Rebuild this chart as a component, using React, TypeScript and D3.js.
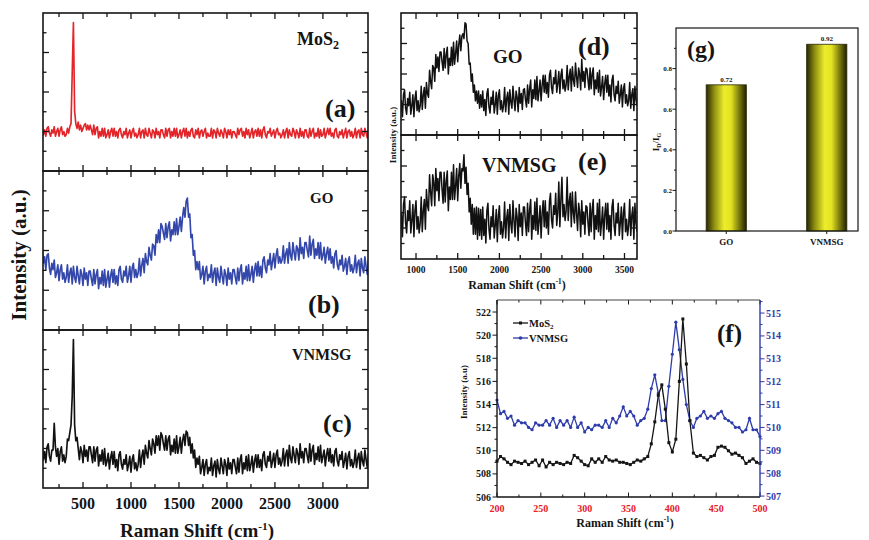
import React from 'react'
import * as d3 from 'd3'

const SERIF = '"Liberation Serif", "Times New Roman", Times, serif'
const INK = '#151515'

// spectra sampled on a 12.5 cm-1 grid
const gridStep = 12.5
const wideStart = 75 // panels a-c
const zoomStart = 800 // panels d-e

const mos2Wide = [
  28, 23, 26, 22, 27, 28, 24, 22, 26, 24, 28, 22, 25, 27, 22, 26, 28, 23, 25, 22,
  23, 27, 24, 28, 30, 62, 94, 38, 30, 27, 31, 26, 29, 25, 27, 29, 30, 26, 29, 26,
  29, 26, 23, 29, 23, 27, 28, 21, 25, 22, 27, 22, 27, 21, 23, 26, 21, 25, 27, 22,
  27, 22, 25, 21, 26, 27, 23, 21, 25, 23, 27, 21, 24, 26, 21, 25, 27, 22, 24, 21,
  23, 27, 21, 25, 26, 21, 27, 23, 22, 27, 24, 21, 26, 25, 21, 27, 23, 25, 21, 26,
  26, 23, 21, 27, 22, 26, 27, 21, 25, 22, 27, 22, 27, 21, 23, 26, 21, 25, 27, 22,
  27, 21, 25, 22, 26, 27, 22, 21, 26, 23, 27, 21, 25, 26, 22, 25, 27, 21, 24, 22,
  22, 27, 21, 26, 25, 21, 27, 24, 22, 26, 24, 21, 27, 25, 21, 26, 23, 26, 21, 25,
  25, 23, 21, 27, 23, 26, 27, 22, 25, 21, 27, 23, 26, 21, 24, 27, 21, 25, 26, 22,
  27, 22, 26, 21, 26, 28, 23, 21, 25, 24, 27, 22, 24, 26, 21, 25, 27, 23, 24, 21,
  23, 26, 21, 25, 27, 21, 26, 23, 22, 27, 25, 21, 26, 24, 21, 27, 22, 25, 21, 26,
  26, 22, 21, 27, 22, 25, 27, 21, 24, 22, 27, 21, 26, 22, 23, 27, 21, 24, 27, 23,
  27, 22, 24, 21, 26, 27, 22, 21, 25, 23, 26, 21, 24, 27, 21, 25, 26, 22, 25, 21,
  23, 27, 21, 25, 26, 21, 27, 23, 22, 27, 24, 21, 26,
]

const goWide = [
  51, 42, 46, 38, 47, 48, 39, 35, 42, 38, 44, 33, 36, 41, 31, 38, 41, 32, 36, 30,
  33, 41, 30, 36, 39, 29, 40, 33, 30, 40, 34, 29, 38, 35, 28, 39, 32, 36, 28, 37,
  37, 32, 28, 38, 29, 35, 38, 26, 33, 29, 37, 28, 38, 27, 32, 37, 27, 34, 38, 30,
  38, 29, 34, 28, 38, 40, 32, 30, 37, 34, 40, 30, 34, 40, 30, 39, 42, 33, 38, 33,
  36, 45, 34, 41, 45, 36, 48, 43, 41, 52, 47, 44, 54, 53, 47, 60, 55, 63, 55, 67,
  65, 61, 57, 67, 58, 65, 68, 56, 63, 60, 68, 60, 70, 60, 65, 71, 62, 71, 77, 71,
  81, 83, 71, 73, 58, 60, 47, 50, 38, 43, 38, 43, 32, 35, 40, 29, 37, 40, 31, 35,
  33, 41, 30, 36, 39, 28, 39, 33, 30, 40, 34, 29, 38, 35, 28, 39, 32, 36, 29, 38,
  38, 33, 29, 39, 31, 38, 41, 29, 36, 32, 40, 31, 41, 31, 35, 40, 30, 38, 42, 34,
  43, 34, 40, 33, 44, 46, 39, 36, 44, 41, 48, 38, 43, 48, 39, 47, 51, 42, 46, 42,
  44, 53, 42, 48, 51, 42, 55, 47, 44, 55, 49, 44, 53, 51, 44, 58, 48, 52, 45, 55,
  55, 50, 46, 59, 47, 54, 57, 45, 51, 47, 55, 45, 55, 44, 47, 52, 42, 48, 52, 44,
  51, 42, 46, 39, 48, 50, 41, 38, 44, 41, 47, 37, 40, 45, 35, 43, 46, 37, 41, 36,
  39, 47, 36, 42, 44, 34, 45, 39, 36, 46, 40, 35, 44,
]

const vnmsgWide = [
  27, 18, 23, 16, 26, 28, 20, 17, 24, 24, 41, 26, 20, 25, 15, 23, 26, 17, 21, 16,
  20, 31, 30, 35, 40, 58, 94, 40, 30, 32, 25, 18, 26, 23, 16, 27, 20, 24, 17, 26,
  26, 21, 16, 26, 17, 24, 26, 14, 21, 17, 24, 15, 25, 14, 17, 22, 12, 19, 23, 15,
  23, 13, 18, 11, 21, 23, 15, 12, 18, 15, 21, 11, 15, 20, 10, 18, 21, 12, 16, 11,
  15, 24, 13, 20, 24, 15, 27, 22, 19, 30, 25, 21, 31, 28, 22, 33, 27, 33, 24, 35,
  33, 28, 24, 33, 24, 31, 33, 21, 27, 23, 31, 22, 33, 22, 26, 32, 22, 30, 34, 27,
  36, 35, 27, 32, 22, 28, 19, 24, 13, 19, 15, 20, 9, 13, 18, 8, 15, 18, 9, 13,
  11, 19, 8, 14, 17, 7, 18, 12, 9, 19, 14, 9, 18, 15, 8, 19, 12, 16, 9, 18,
  18, 13, 9, 19, 10, 18, 21, 9, 16, 12, 20, 11, 21, 11, 15, 20, 10, 17, 21, 13,
  21, 13, 18, 11, 21, 23, 15, 13, 20, 17, 23, 13, 17, 22, 13, 21, 24, 15, 19, 14,
  17, 25, 14, 21, 24, 14, 27, 19, 16, 26, 21, 16, 25, 22, 15, 28, 19, 23, 16, 25,
  25, 20, 16, 28, 17, 24, 27, 15, 22, 18, 26, 17, 27, 16, 20, 24, 14, 21, 25, 17,
  25, 16, 21, 14, 23, 25, 17, 14, 21, 18, 23, 13, 17, 22, 12, 20, 23, 14, 18, 13,
  16, 24, 13, 19, 22, 12, 23, 17, 14, 24, 18, 13, 22,
]

const goZoom = [
  35, 19, 28, 15, 33, 37, 22, 17, 30, 24, 35, 17, 24, 33, 15, 30, 36, 20, 28, 19,
  24, 40, 21, 33, 39, 22, 43, 34, 31, 53, 44, 38, 57, 55, 44, 66, 55, 64, 52, 68,
  68, 60, 53, 71, 55, 66, 72, 50, 63, 57, 72, 57, 76, 58, 67, 77, 60, 74, 82, 69,
  81, 83, 79, 92, 91, 77, 75, 58, 59, 44, 50, 35, 41, 28, 36, 26, 36, 22, 33, 23,
  36, 20, 29, 16, 34, 38, 23, 18, 31, 25, 36, 18, 25, 35, 17, 32, 37, 21, 28, 19,
  24, 39, 19, 30, 35, 17, 37, 27, 22, 40, 29, 20, 36, 31, 19, 39, 26, 34, 21, 37,
  38, 29, 23, 41, 26, 38, 45, 23, 37, 30, 45, 29, 48, 28, 36, 45, 28, 41, 49, 35,
  49, 34, 43, 31, 49, 53, 39, 34, 47, 42, 53, 35, 42, 52, 34, 49, 54, 38, 45, 36,
  41, 57, 37, 48, 54, 36, 56, 45, 40, 59, 48, 39, 55, 50, 37, 62, 44, 52, 39, 55,
  54, 45, 37, 55, 38, 50, 55, 33, 45, 38, 51, 35, 53, 32, 39, 48, 29, 42, 49, 35,
  49, 32, 41, 27, 45, 49, 33, 28, 40, 34, 44, 26, 33, 41, 23, 38, 42, 26, 33, 24,
  28, 43, 22, 33, 38, 20, 40, 29, 24,
]

const vnmsgZoom = [
  47, 24, 37, 18, 44, 50, 29, 21, 39, 31, 47, 21, 31, 44, 18, 39, 47, 24, 34, 21,
  29, 50, 22, 39, 48, 24, 56, 43, 39, 68, 54, 43, 68, 62, 43, 73, 55, 65, 47, 70,
  70, 56, 45, 70, 46, 63, 71, 39, 58, 48, 70, 48, 76, 48, 59, 73, 47, 67, 77, 57,
  73, 71, 84, 61, 74, 52, 61, 38, 49, 28, 44, 20, 41, 20, 42, 16, 41, 19, 40, 16,
  42, 19, 32, 13, 39, 45, 24, 16, 34, 26, 43, 17, 27, 40, 14, 35, 43, 20, 30, 17,
  25, 46, 17, 33, 40, 15, 44, 28, 21, 47, 31, 18, 41, 34, 15, 44, 26, 37, 19, 42,
  42, 29, 19, 45, 22, 40, 48, 16, 35, 24, 46, 23, 49, 20, 30, 43, 17, 37, 47, 26,
  47, 25, 38, 20, 46, 53, 32, 25, 43, 36, 53, 27, 38, 62, 26, 48, 66, 34, 44, 31,
  39, 66, 31, 46, 53, 26, 54, 37, 29, 54, 37, 23, 45, 38, 18, 47, 28, 38, 20, 43,
  42, 29, 19, 45, 22, 40, 48, 16, 35, 24, 45, 22, 48, 19, 29, 42, 16, 35, 45, 24,
  45, 22, 35, 16, 42, 48, 27, 19, 37, 29, 45, 19, 29, 42, 16, 37, 45, 22, 32, 19,
  27, 48, 19, 35, 42, 16, 45, 29, 22,
]

// (g) I_D / I_G ratio
const ratioNames = ['GO', 'VNMSG']
const ratioValues = [0.72, 0.92]

// (f) low-shift region, 4 cm-1 grid
const fStart = 200
const fStep = 4
const fMos2 = [
  509.1, 509.5, 509.3, 509.0, 508.8, 509.1, 509.0, 508.9, 509.1, 508.8,
  509.0, 509.2, 508.7, 509.2, 508.6, 509.0, 508.8, 509.0, 508.9, 508.8,
  509.0, 508.9, 509.6, 509.4, 509.1, 508.8, 508.7, 509.3, 509.0, 509.3,
  509.0, 509.5, 509.2, 509.1, 509.2, 509.0, 509.0, 508.9, 508.8, 509.0,
  509.2, 509.1, 509.3, 509.5, 510.6, 512.5, 514.8, 515.7, 513.6, 510.7,
  509.9, 511.0, 516.0, 521.4, 517.5, 512.6, 509.8, 509.5, 509.6, 509.4,
  509.2, 509.5, 509.6, 510.3, 510.4, 510.3, 510.0, 509.7, 509.8, 509.6,
  509.4, 508.9, 509.1, 509.3, 509.0, 508.9,
]
const fVnmsg = [
  511.2, 510.6, 510.7, 510.4, 510.5, 510.1, 510.3, 510.2, 510.2, 510.0,
  509.9, 510.2, 510.1, 510.1, 510.3, 510.1, 510.4, 510.0, 510.3, 510.1,
  510.3, 510.0, 510.45, 510.0, 510.2, 509.8, 510.0, 509.9, 510.1, 510.1,
  510.0, 510.3, 510.0, 510.4, 510.2, 510.5, 510.9, 510.5, 510.7, 510.5,
  510.1, 510.3, 510.4, 510.8, 511.7, 512.3, 511.5, 510.3, 510.3, 511.8,
  513.2, 514.6, 513.4, 512.1, 511.0, 510.3, 510.0, 510.4, 510.5, 510.7,
  510.4, 510.5, 510.4, 510.6, 510.7, 510.4, 510.3, 510.2, 510.0, 510.0,
  509.8, 509.9, 510.4, 509.9, 509.9, 509.6,
]

const wideTicks = [500, 1000, 1500, 2000, 2500, 3000]
const zoomTicks = [1000, 1500, 2000, 2500, 3000, 3500]

const Shift = ({ x, y, size, anchor = 'middle' }) => (
  <text x={x} y={y} fontSize={size} fontWeight="bold" textAnchor={anchor} fontFamily={SERIF} fill={INK}>
    Raman Shift (cm
    <tspan dy={-size * 0.38} fontSize={size * 0.6}>-1</tspan>
    <tspan dy={size * 0.38}>)</tspan>
  </text>
)

const Label = ({ x, y, size, children, fill = INK, anchor = 'start', rotate = false }) => (
  <text x={rotate ? 0 : x} y={rotate ? 0 : y} fontSize={size} fontWeight="bold" fill={fill}
    textAnchor={anchor} fontFamily={SERIF}
    transform={rotate ? `translate(${x},${y}) rotate(-90)` : undefined}>
    {children}
  </text>
)

// stacked spectra with shared x axis
function Stack({ id, x, x0, x1, rows, nY, lw }) {
  const minor = d3.range(Math.ceil(x.domain()[0] / 250) * 250, x.domain()[1], 250)
  return (
    <g>
      <defs>
        {rows.map(r => (
          <clipPath id={`${id}-${r.id}`} key={r.id}>
            <rect x={x0} y={r.top} width={x1 - x0} height={r.bot - r.top} />
          </clipPath>
        ))}
      </defs>
      {rows.map(r => {
        const y = d3.scaleLinear().domain([0, 100]).range([r.bot, r.top])
        const line = d3.line<number>().x((_, i) => x(r.start + i * gridStep)).y(v => y(v))
        const yt = d3.range(1, nY).map(k => r.bot - (k * (r.bot - r.top)) / nY)
        return (
          <g key={r.id}>
            <path d={line(r.data)} fill="none" stroke={r.color} strokeWidth={lw}
              strokeLinejoin="round" clipPath={`url(#${id}-${r.id})`} />
            {yt.map((ty, k) => {
              const len = k % 2 ? 6 : 3.5
              return (
                <g key={k} stroke={INK} strokeWidth={1.3}>
                  <line x1={x0} x2={x0 + len} y1={ty} y2={ty} />
                  <line x1={x1} x2={x1 - len} y1={ty} y2={ty} />
                </g>
              )
            })}
            {minor.map(v => {
              const len = v % 500 === 0 ? 6 : 4
              return (
                <g key={v} stroke={INK} strokeWidth={1.3}>
                  <line x1={x(v)} x2={x(v)} y1={r.top} y2={r.top + len} />
                  <line x1={x(v)} x2={x(v)} y1={r.bot} y2={r.bot - len} />
                </g>
              )
            })}
            <rect x={x0} y={r.top} width={x1 - x0} height={r.bot - r.top} fill="none" stroke={INK} strokeWidth={1.6} />
          </g>
        )
      })}
    </g>
  )
}

function RatioPanel() {
  const left = 676, right = 858, top = 28, bot = 231
  const y = d3.scaleLinear().domain([0, 1]).range([bot, top])
  const x = d3.scaleBand().domain(ratioNames).range([676, 877]).paddingInner(0.6).paddingOuter(0.3)
  return (
    <g>
      <defs>
        <linearGradient id="barShade" x1="0" x2="1" y1="0" y2="0">
          <stop offset="0" stopColor="#262604" />
          <stop offset="0.2" stopColor="#8e8e12" />
          <stop offset="0.45" stopColor="#eded2c" />
          <stop offset="0.62" stopColor="#e2e222" />
          <stop offset="0.85" stopColor="#6c6c0b" />
          <stop offset="1" stopColor="#1f1f04" />
        </linearGradient>
      </defs>
      {ratioNames.map((n, i) => (
        <g key={n}>
          <rect x={x(n)} y={y(ratioValues[i])} width={x.bandwidth()} height={bot - y(ratioValues[i])}
            fill="url(#barShade)" stroke="#2a2a08" strokeWidth={0.8} />
          <Label x={x(n) + x.bandwidth() / 2} y={y(ratioValues[i]) - 3} size={7} anchor="middle">
            {ratioValues[i].toFixed(2)}
          </Label>
          <line x1={x(n) + x.bandwidth() / 2} x2={x(n) + x.bandwidth() / 2} y1={bot} y2={bot + 3} stroke={INK} />
          <Label x={x(n) + x.bandwidth() / 2} y={245} size={9} anchor="middle">{n}</Label>
        </g>
      ))}
      {d3.range(0, 0.95, 0.1).map((v, k) => (
        <line key={k} x1={left} x2={left - (k % 2 ? 2 : 3.5)} y1={y(v)} y2={y(v)} stroke={INK} strokeWidth={1} />
      ))}
      {[0, 0.2, 0.4, 0.6, 0.8].map(v => (
        <Label key={v} x={672} y={y(v) + 2.5} size={7} anchor="end">{v.toFixed(1)}</Label>
      ))}
      <rect x={left} y={top} width={right - left} height={bot - top} fill="none" stroke={INK} strokeWidth={1.2} />
      <Label x={687} y={57} size={24}>(g)</Label>
      <text transform="translate(659,142) rotate(-90)" fontSize={9} fontWeight="bold" fontFamily={SERIF}
        textAnchor="middle" fill={INK}>
        I<tspan dy={2} fontSize={6}>D</tspan><tspan dy={-2}>/I</tspan><tspan dy={2} fontSize={6}>G</tspan>
      </text>
    </g>
  )
}

function ShiftPanel() {
  const left = 497, right = 760, top = 300, bot = 497
  const blue = '#2e3cab'
  const red = '#e5202a'
  const x = d3.scaleLinear().domain([200, 500]).range([left, right])
  const yL = d3.scaleLinear().domain([506, 523.04]).range([bot, top])
  const yR = d3.scaleLinear().domain([506.96, 515.57]).range([bot, top])
  const xi = (i: number) => x(fStart + i * fStep)
  const lineL = d3.line<number>().x((_, i) => xi(i)).y(v => yL(v))
  const lineR = d3.line<number>().x((_, i) => xi(i)).y(v => yR(v))
  return (
    <g>
      <path d={lineR(fVnmsg)} fill="none" stroke={blue} strokeWidth={1.3} />
      {fVnmsg.map((v, i) => <circle key={i} cx={xi(i)} cy={yR(v)} r={1.6} fill={blue} />)}
      <path d={lineL(fMos2)} fill="none" stroke={INK} strokeWidth={1.3} />
      {fMos2.map((v, i) => <rect key={i} x={xi(i) - 1.5} y={yL(v) - 1.5} width={3} height={3} fill={INK} />)}

      {d3.range(506, 523, 1).map(v => (
        <line key={v} x1={left} x2={left - (v % 2 ? 2.5 : 4.5)} y1={yL(v)} y2={yL(v)} stroke={INK} strokeWidth={1} />
      ))}
      {d3.range(506, 523, 2).map(v => (
        <Label key={v} x={491} y={yL(v) + 3.5} size={10} anchor="end">{v}</Label>
      ))}
      {d3.range(507, 515.6, 0.5).map(v => (
        <line key={v} x1={right} x2={right + (v % 1 ? 2.5 : 4.5)} y1={yR(v)} y2={yR(v)} stroke={blue} strokeWidth={1} />
      ))}
      {d3.range(507, 516, 1).map(v => (
        <Label key={v} x={766} y={yR(v) + 3.5} size={10} fill={blue}>{v}</Label>
      ))}
      {d3.range(200, 501, 25).map(v => {
        const len = v % 50 ? 2.5 : 4.5
        return (
          <g key={v} stroke={INK} strokeWidth={1}>
            <line x1={x(v)} x2={x(v)} y1={bot} y2={bot - len} />
            <line x1={x(v)} x2={x(v)} y1={top} y2={top + len} />
          </g>
        )
      })}
      {d3.range(200, 501, 50).map(v => (
        <Label key={v} x={x(v)} y={512} size={10} fill={red} anchor="middle">{v}</Label>
      ))}
      <line x1={left} x2={right} y1={top} y2={top} stroke="#444" strokeWidth={1.2} />
      <line x1={left} x2={right} y1={bot} y2={bot} stroke={INK} strokeWidth={1.4} />
      <line x1={left} x2={left} y1={top} y2={bot} stroke={INK} strokeWidth={1.4} />
      <line x1={right} x2={right} y1={top} y2={bot} stroke={blue} strokeWidth={1.4} />

      <line x1={513} x2={528} y1={323} y2={323} stroke={INK} strokeWidth={1.3} />
      <rect x={519} y={321.5} width={3} height={3} fill={INK} />
      <text x={529} y={326.5} fontSize={10.5} fontWeight="bold" fontFamily={SERIF} fill={INK}>
        MoS<tspan dy={2.5} fontSize={7}>2</tspan>
      </text>
      <line x1={513} x2={528} y1={338} y2={338} stroke={blue} strokeWidth={1.3} />
      <circle cx={520.5} cy={338} r={1.8} fill={blue} />
      <Label x={529} y={341.5} size={10.5}>VNMSG</Label>

      <Label x={717} y={342} size={25}>(f)</Label>
      <Shift x={625} y={527} size={12} />
      <Label x={467} y={392} size={9} anchor="middle" rotate>Intensity (a.u)</Label>
    </g>
  )
}

export default function App() {
  const xWide = d3.scaleLinear().domain([83, 3470]).range([43, 368])
  const xZoom = d3.scaleLinear().domain([820, 3650]).range([401, 637])
  const wideRows = [
    { id: 'a', top: 13, bot: 171, data: mos2Wide, start: wideStart, color: '#e3252a' },
    { id: 'b', top: 171, bot: 330, data: goWide, start: wideStart, color: '#3447aa' },
    { id: 'c', top: 330, bot: 488, data: vnmsgWide, start: wideStart, color: '#111' },
  ]
  const zoomRows = [
    { id: 'd', top: 13, bot: 135, data: goZoom, start: zoomStart, color: '#111' },
    { id: 'e', top: 135, bot: 259, data: vnmsgZoom, start: zoomStart, color: '#111' },
  ]
  return (
    <svg width={869} height={540} style={{ position: 'absolute', left: 0, top: 0, background: '#fff' }}>
      <Stack id="wide" x={xWide} x0={43} x1={368} rows={wideRows} nY={8} lw={1.65} />
      {wideTicks.map(v => (
        <Label key={v} x={xWide(v)} y={509} size={16} anchor="middle">{v}</Label>
      ))}
      <Shift x={197} y={537} size={19} />
      <Label x={26} y={255} size={21} anchor="middle" rotate>Intensity (a.u.)</Label>
      <text x={297} y={45} fontSize={18} fontWeight="bold" fontFamily={SERIF} fill={INK}>
        MoS<tspan dy={4} fontSize={12}>2</tspan>
      </text>
      <Label x={325} y={117} size={26}>(a)</Label>
      <Label x={310} y={203} size={15}>GO</Label>
      <Label x={308} y={313} size={26}>(b)</Label>
      <Label x={292} y={360} size={16}>VNMSG</Label>
      <Label x={323} y={432} size={26}>(c)</Label>

      <Stack id="zoom" x={xZoom} x0={401} x1={637} rows={zoomRows} nY={8} lw={1.5} />
      {zoomTicks.map(v => (
        <Label key={v} x={xZoom(v)} y={273} size={9.5} anchor="middle">{v}</Label>
      ))}
      <Shift x={517} y={289} size={12} />
      <Label x={396} y={135} size={9} anchor="middle" rotate>Intensity (a.u.)</Label>
      <Label x={493} y={63} size={19}>GO</Label>
      <Label x={578} y={55} size={26}>(d)</Label>
      <Label x={482} y={172} size={20}>VNMSG</Label>
      <Label x={578} y={170} size={26}>(e)</Label>

      <RatioPanel />
      <ShiftPanel />
    </svg>
  )
}
